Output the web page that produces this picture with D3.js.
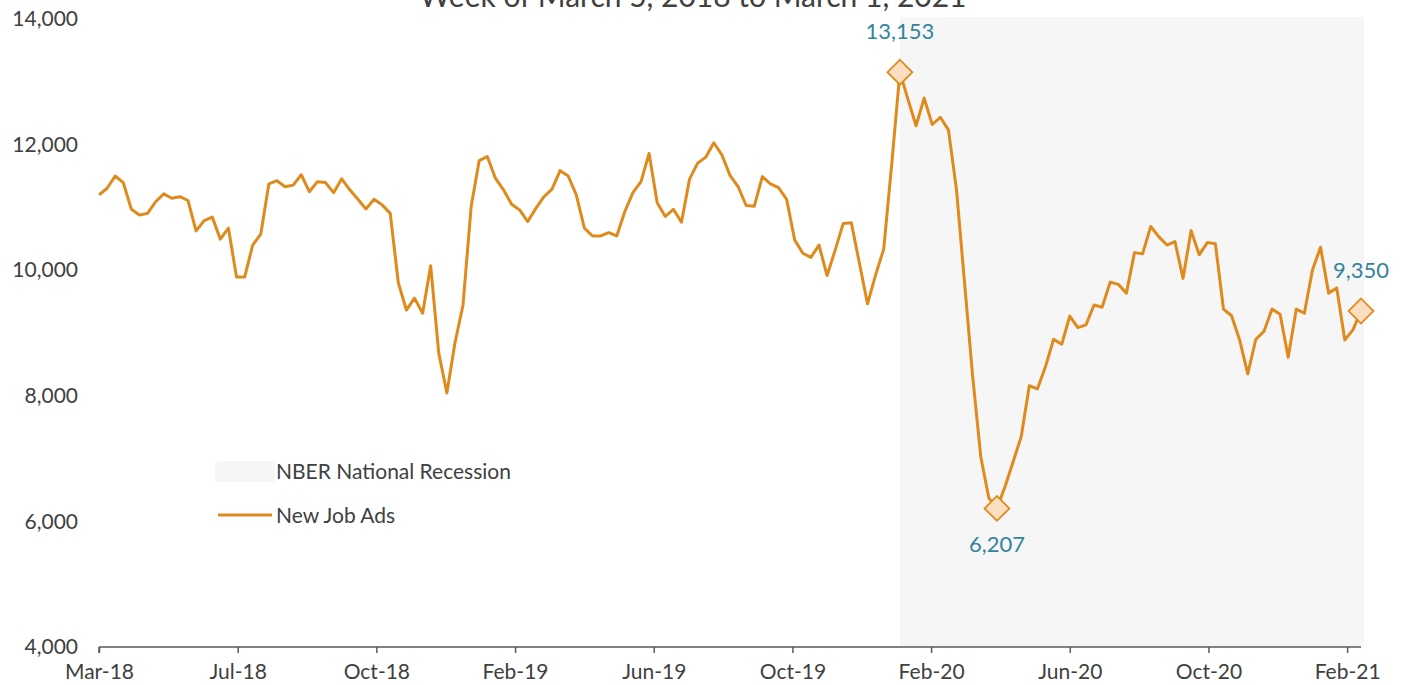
<!DOCTYPE html>
<html>
<head>
<meta charset="utf-8">
<script src="https://cdn.jsdelivr.net/npm/d3@7"></script>
<style>
  body { margin: 0; background: #fff; }
  svg { display: block; font-family: Lato, "Open Sans", sans-serif; }
</style>
</head>
<body>
<svg id="chart" width="1410" height="685"></svg>
<script>
// weekly new job ads, week of March 5, 2018 to March 1, 2021
let startDate = "2018-03-05";
let newJobAds = [
    11200, 11305, 11500, 11395, 10970, 10880, 10905, 11090, 11215, 11145,
    11170, 11110, 10625, 10790, 10845, 10495, 10670, 9890, 9890, 10400,
    10575, 11375, 11425, 11330, 11355, 11520, 11250, 11410, 11395, 11235,
    11455, 11280, 11130, 10975, 11130, 11040, 10905, 9800, 9365, 9555,
    9315, 10070, 8680, 8046, 8840, 9450, 11010, 11745, 11810, 11465,
    11280, 11050, 10960, 10775, 10985, 11170, 11290, 11585, 11500, 11200,
    10670, 10545, 10545, 10600, 10545, 10935, 11235, 11410, 11860, 11075,
    10855, 10970, 10765, 11450, 11705, 11800, 12030, 11835, 11510, 11330,
    11030, 11020, 11490, 11375, 11315, 11130, 10480, 10270, 10205, 10400,
    9915, 10320, 10745, 10755, 10110, 9465, 9925, 10335, 11700, 13153,
    12720, 12300, 12740, 12320, 12435, 12235, 11280, 9790, 8305, 7030,
    6370, 6207, 6555, 6950, 7350, 8160, 8110, 8465, 8900, 8820,
    9270, 9085, 9130, 9445, 9410, 9810, 9775, 9635, 10280, 10260,
    10695, 10535, 10400, 10455, 9870, 10630, 10245, 10440, 10420, 9380,
    9275, 8890, 8350, 8900, 9025, 9380, 9300, 8615, 9380, 9315,
    10005, 10365, 9635, 9715, 8890, 9050, 9350
];
// labelled points (index into newJobAds)
let highlightIndex = [99, 111, 156];
let highlightLabelPos = ["above", "below", "above"];

let recession = ["2020-01-27", "2021-03-01"];

let xTickDates = ["2018-03-05", "2018-07-03", "2018-10-31", "2019-02-28", "2019-06-28",
    "2019-10-26", "2020-02-23", "2020-06-22", "2020-10-20", "2021-02-17"];
let xTickLabels = ["Mar-18", "Jul-18", "Oct-18", "Feb-19", "Jun-19",
    "Oct-19", "Feb-20", "Jun-20", "Oct-20", "Feb-21"];
let yTicks = [4000, 6000, 8000, 10000, 12000, 14000];

let subtitle = "Week of March 5, 2018 to March 1, 2021";
let legendLabels = ["NBER National Recession", "New Job Ads"];

const LINE_COLOR = "#df8a1c";
const TEXT_COLOR = "#404040";
const LABEL_COLOR = "#31849b";

let parse = d3.utcParse("%Y-%m-%d");
let t0 = parse(startDate);
let data = newJobAds.map((v, i) => {
    return {date: d3.utcDay.offset(t0, 7 * i), value: v};
});

let svg = d3.select("#chart");
let margin = {left: 99, right: 49, top: 19, bottom: 38};
let width = 1410, height = 685;

let x = d3.scaleUtc()
    .domain([data[0].date, data[data.length - 1].date])
    .range([margin.left, width - margin.right]);
let y = d3.scaleLinear()
    .domain([4000, 14000])
    .range([height - margin.bottom, margin.top]);

// recession shading
svg.append("rect")
    .attr("x", x(parse(recession[0])))
    .attr("y", y(14000) - 2)
    .attr("width", x(parse(recession[1])) - x(parse(recession[0])) + 3)
    .attr("height", y(4000) - y(14000) + 2)
    .attr("fill", "#f6f6f6");

// subtitle, top is cut off in the original
svg.append("text")
    .attr("x", 693)
    .attr("y", 7)
    .attr("text-anchor", "middle")
    .attr("font-size", 30)
    .attr("fill", TEXT_COLOR)
    .text(subtitle);

// y axis labels only
let yAxis = svg.append("g")
    .attr("transform", `translate(${margin.left - 8}, 0)`)
    .call(d3.axisLeft(y).tickValues(yTicks).tickFormat(d3.format(",")).tickSize(0).tickPadding(13));
yAxis.select(".domain").remove();
yAxis.selectAll("text")
    .attr("font-size", 21)
    .attr("font-family", "Lato, sans-serif")
    .attr("fill", TEXT_COLOR);

// x axis
let xAxis = svg.append("g")
    .attr("transform", `translate(0, ${y(4000)})`)
    .call(d3.axisBottom(x)
        .tickValues(xTickDates.map(parse))
        .tickFormat((d, i) => xTickLabels[i])
        .tickSizeInner(6).tickSizeOuter(0).tickPadding(11));
xAxis.select(".domain").attr("stroke", "#595959").attr("stroke-width", 1.5)
    .attr("d", `M${x(data[0].date)},0H${x(data[data.length - 1].date)}`);
xAxis.selectAll(".tick line").attr("stroke", "#595959").attr("stroke-width", 1.5);
xAxis.selectAll("text")
    .attr("font-size", 21)
    .attr("font-family", "Lato, sans-serif")
    .attr("fill", TEXT_COLOR);
// first tick at the axis start
svg.append("line")
    .attr("x1", x(data[0].date)).attr("x2", x(data[0].date))
    .attr("y1", y(4000)).attr("y2", y(4000) + 6)
    .attr("stroke", "#595959").attr("stroke-width", 1.5);

// the line
let line = d3.line()
    .x(d => x(d.date))
    .y(d => y(d.value));
svg.append("path")
    .datum(data)
    .attr("d", line)
    .attr("fill", "none")
    .attr("stroke", LINE_COLOR)
    .attr("stroke-width", 3)
    .attr("stroke-linejoin", "round");

// highlighted points
let symbol = d3.symbol().type(d3.symbolSquare).size(310);
let marks = svg.append("g").selectAll("g")
    .data(highlightIndex.map((idx, i) => ({d: data[idx], pos: highlightLabelPos[i]})))
    .enter().append("g")
    .attr("transform", m => `translate(${x(m.d.date)}, ${y(m.d.value)})`);
marks.append("path")
    .attr("d", symbol)
    .attr("transform", "rotate(45)")
    .attr("fill", "#f9dfc0")
    .attr("stroke", LINE_COLOR)
    .attr("stroke-width", 1.8);
marks.append("text")
    .attr("text-anchor", "middle")
    .attr("y", m => m.pos === "above" ? -33 : 44)
    .attr("font-size", 22)
    .attr("fill", LABEL_COLOR)
    .text(m => d3.format(",")(m.d.value));

// legend
let legend = svg.append("g").attr("transform", "translate(215, 461)");
legend.append("rect")
    .attr("width", 60).attr("height", 21).attr("rx", 3)
    .attr("fill", "#f6f6f6");
legend.append("text")
    .attr("x", 61).attr("y", 18)
    .attr("font-size", 21)
    .attr("fill", TEXT_COLOR)
    .text(legendLabels[0]);
legend.append("line")
    .attr("x1", 3).attr("x2", 57)
    .attr("y1", 54).attr("y2", 54)
    .attr("stroke", LINE_COLOR).attr("stroke-width", 3);
legend.append("text")
    .attr("x", 61).attr("y", 62)
    .attr("font-size", 21)
    .attr("fill", TEXT_COLOR)
    .text(legendLabels[1]);
</script>
</body>
</html>
